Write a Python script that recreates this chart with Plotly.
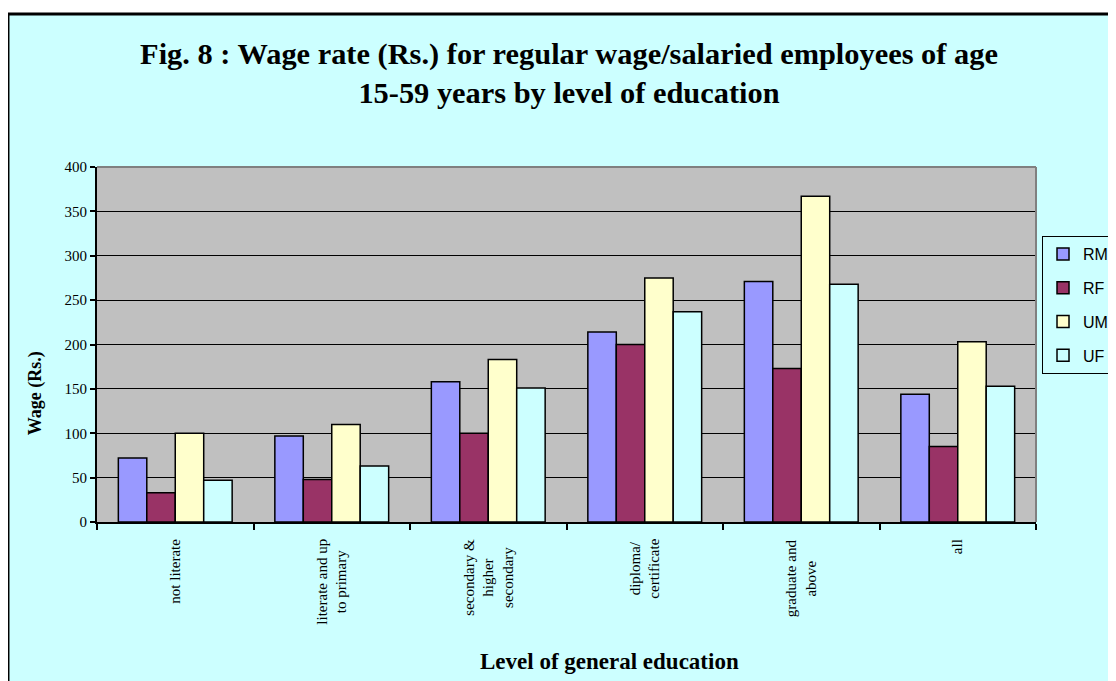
import plotly.graph_objects as go

# categories (x axis) and series values
CATEGORIES = [
    "not literate",
    "literate and up<br>to primary",
    "secondary &<br>higher<br>secondary",
    "diploma/<br>certificate",
    "graduate and<br>above",
    "all",
]
RM = [72, 97, 158, 214, 271, 144]
RF = [33, 48, 100, 200, 173, 85]
UM = [100, 110, 183, 275, 367, 203]
UF = [47, 63, 151, 237, 268, 153]

SERIES = [
    ("RM", RM, "#9999FF"),
    ("RF", RF, "#993366"),
    ("UM", UM, "#FFFFCC"),
    ("UF", UF, "#CCFFFF"),
]

SERIF = "Liberation Serif, Times New Roman, serif"
SANS = "Liberation Sans, Arial, sans-serif"

fig = go.Figure()
for name, vals, color in SERIES:
    fig.add_trace(go.Bar(
        x=CATEGORIES, y=vals, name=name, legendgroup=name,
        marker=dict(color=color, line=dict(color="black", width=1.5)),
    ))

# category labels, rotated, centred lines like the original
annotations = [
    dict(x=c, y=-0.042, xref="x", yref="paper", text=c, showarrow=False,
         textangle=-90, yanchor="top", xanchor="center", align="center",
         font=dict(family=SERIF, size=15, color="black"))
    for c in CATEGORIES
]
annotations += [
    dict(x=-0.066, y=0.363, xref="paper", yref="paper", text="<b>Wage (Rs.)</b>",
         showarrow=False, textangle=-90, xanchor="center", yanchor="middle",
         font=dict(family=SERIF, size=18, color="black")),
    dict(x=0.5463, y=-0.394, xref="paper", yref="paper",
         text="<b>Level of general education</b>", showarrow=False,
         xanchor="center", yanchor="middle",
         font=dict(family=SERIF, size=23, color="black")),
]

shapes = [
    # white page above the chart frame
    dict(type="rect", xref="paper", yref="paper", x0=-0.2, x1=1.3, y0=1.431, y1=1.6,
         fillcolor="white", line=dict(width=0), layer="below"),
    # chart frame
    dict(type="rect", xref="paper", yref="paper", x0=-0.0948, x1=1.3, y0=-0.6, y1=1.431,
         line=dict(color="black", width=3), layer="below"),
    # grey plot-area border on top and right
    dict(type="line", xref="paper", yref="paper", x0=0, x1=1, y0=1, y1=1,
         line=dict(color="#808080", width=2), layer="above"),
    dict(type="line", xref="paper", yref="paper", x0=1, x1=1, y0=0, y1=1,
         line=dict(color="#808080", width=2), layer="above"),
]

fig.update_layout(
    width=1116, height=681,
    margin=dict(l=89, r=88, t=159, b=167, autoexpand=False),
    paper_bgcolor="#CCFFFF", plot_bgcolor="#C0C0C0",
    barmode="group", bargap=0.2727, bargroupgap=0,
    title=dict(
        text="<b>Fig. 8 : Wage rate (Rs.) for regular wage/salaried employees of age<br>"
             "15-59 years by level of education</b>",
        x=0.5027, xref="container", xanchor="center",
        y=0.9178, yref="container", yanchor="middle",
        font=dict(family=SERIF, size=30.4, color="black"),
    ),
    xaxis=dict(
        showticklabels=False, tickson="boundaries", ticks="outside", ticklen=6,
        tickcolor="black", tickwidth=1.5, showline=True, linecolor="black",
        linewidth=2, showgrid=False,
    ),
    yaxis=dict(
        range=[0, 400], dtick=50, showgrid=True, gridcolor="black", gridwidth=1,
        ticks="outside", ticklen=5, tickcolor="black", tickwidth=1.5,
        showline=True, linecolor="black", linewidth=2, zeroline=False,
        tickfont=dict(family=SERIF, size=15, color="black"),
    ),
    legend=dict(
        x=1.0064, y=0.8056, xanchor="left", yanchor="top",
        bgcolor="#CCFFFF", bordercolor="black", borderwidth=1,
        font=dict(family=SANS, size=16, color="black"),
        traceorder="grouped", tracegroupgap=10,
    ),
    annotations=annotations,
    shapes=shapes,
)

fig.write_html("out.html")
